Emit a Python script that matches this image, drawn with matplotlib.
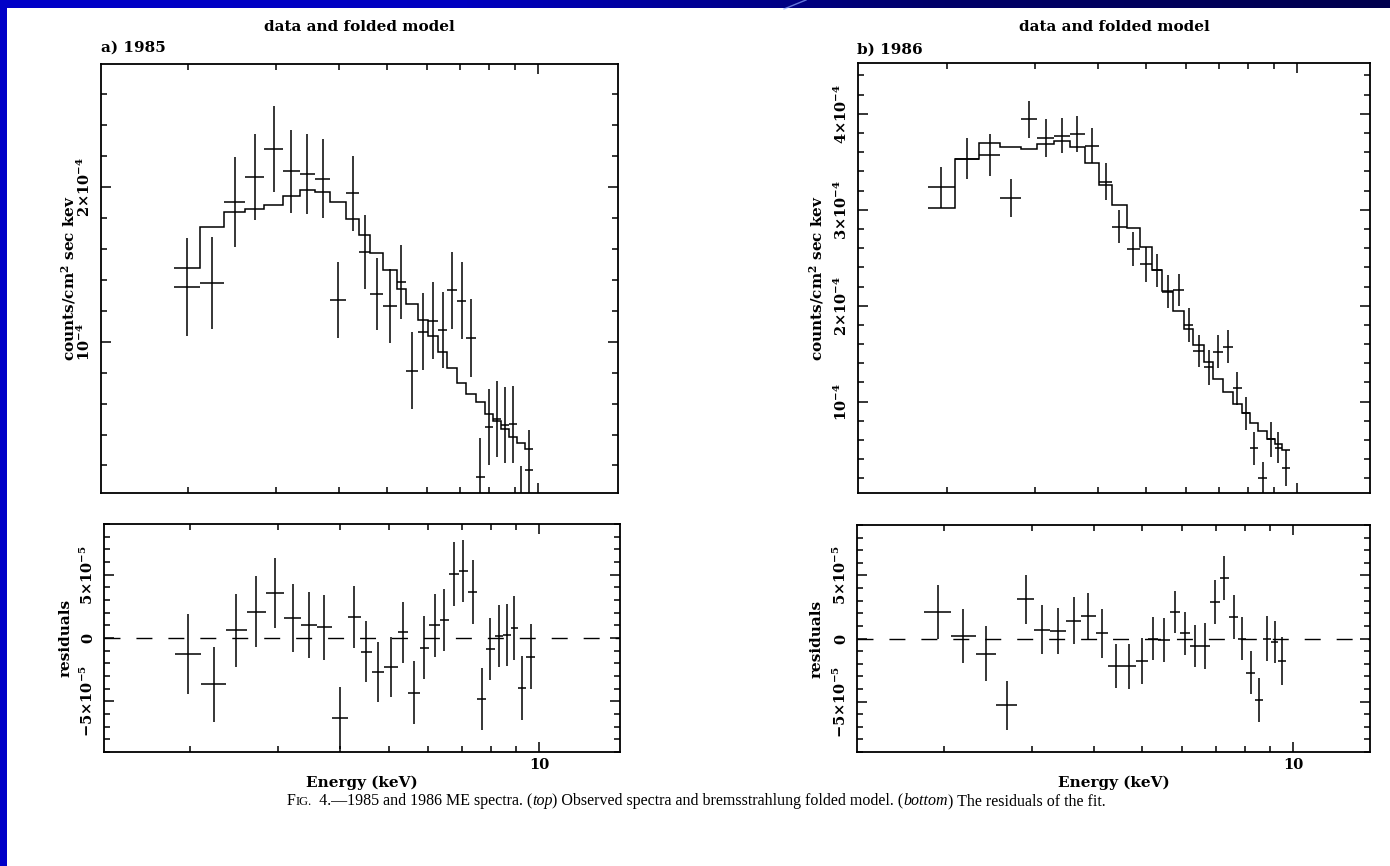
import numpy as np
import matplotlib

matplotlib.use("Agg")
import matplotlib.pyplot as plt
from matplotlib.colors import LinearSegmentedColormap
from matplotlib.patches import Rectangle
from matplotlib.ticker import FixedLocator, FuncFormatter, MultipleLocator, NullFormatter

plt.rcParams["font.family"] = "DejaVu Serif"
plt.rcParams["font.weight"] = "bold"
plt.rcParams["axes.labelweight"] = "bold"
plt.rcParams["mathtext.fontset"] = "custom"
plt.rcParams["mathtext.rm"] = "DejaVu Serif:bold"
plt.rcParams["mathtext.it"] = "DejaVu Serif:italic:bold"
plt.rcParams["mathtext.bf"] = "DejaVu Serif:bold"

UNIT = 1e-4  # flux values below are in units of 1e-4 counts/cm^2/s/keV

# ---- 1985 ME spectrum ----
edges_85 = [1.87, 2.11, 2.36, 2.60, 2.84, 3.09, 3.34, 3.59, 3.85, 4.14, 4.39, 4.63, 4.90, 5.22, 5.46,
            5.76, 6.03, 6.32, 6.60, 6.90, 7.20, 7.52, 7.83, 8.14, 8.46, 8.76, 9.07, 9.42, 9.79]
data_85 = [1.352, 1.378, 1.903, 2.067, 2.244, 2.101, 2.084, 2.052, 1.270, 1.959, 1.582, 1.308, 1.233, 1.388,
           0.813, 1.065, 1.135, 1.076, 1.332, 1.265, 1.024, 0.127, 0.447, 0.502, 0.460, 0.465, -0.051, 0.171]
err_85 = [0.316, 0.296, 0.288, 0.278, 0.277, 0.269, 0.261, 0.255, 0.246, 0.241, 0.240, 0.235, 0.239, 0.240,
          0.248, 0.248, 0.249, 0.248, 0.250, 0.248, 0.250, 0.248, 0.245, 0.245, 0.246, 0.251, 0.250, 0.258]
model_85 = [1.479, 1.742, 1.840, 1.858, 1.886, 1.944, 1.980, 1.969, 1.903, 1.793, 1.689, 1.575, 1.462, 1.343,
            1.245, 1.141, 1.035, 0.934, 0.827, 0.736, 0.662, 0.609, 0.535, 0.486, 0.436, 0.384, 0.343, 0.306]
resid_85 = [-0.127, -0.364, 0.063, 0.209, 0.358, 0.157, 0.100, 0.083, -0.633, 0.166, -0.107, -0.267, -0.229, 0.045,
            -0.432, -0.076, 0.100, 0.142, 0.505, 0.529, 0.362, -0.482, -0.088, 0.016, 0.024, 0.081, -0.394, -0.147]

# ---- 1986 ME spectrum ----
edges_86 = [1.83, 2.07, 2.32, 2.55, 2.81, 3.03, 3.27, 3.52, 3.77, 4.03, 4.27, 4.57, 4.85, 5.13, 5.37,
            5.67, 5.95, 6.21, 6.53, 6.81, 7.13, 7.45, 7.76, 8.07, 8.38, 8.71, 9.05, 9.33, 9.70]
data_86 = [3.234, 3.534, 3.571, 3.126, 3.943, 3.750, 3.773, 3.793, 3.668, 3.294, 2.825, 2.594, 2.434, 2.370,
           2.147, 2.162, 1.800, 1.531, 1.357, 1.521, 1.574, 1.140, 0.879, 0.514, 0.201, 0.609, 0.522, 0.309]
err_86 = [0.217, 0.212, 0.217, 0.196, 0.196, 0.195, 0.183, 0.186, 0.183, 0.191, 0.174, 0.179, 0.183, 0.170,
          0.174, 0.170, 0.174, 0.165, 0.182, 0.174, 0.174, 0.174, 0.174, 0.174, 0.174, 0.182, 0.165, 0.188]
model_86 = [3.022, 3.527, 3.691, 3.659, 3.637, 3.683, 3.718, 3.653, 3.488, 3.259, 3.047, 2.813, 2.617, 2.370,
            2.157, 1.950, 1.762, 1.590, 1.416, 1.235, 1.098, 0.975, 0.879, 0.781, 0.690, 0.609, 0.554, 0.492]
resid_86 = [0.21, 0.02, -0.12, -0.53, 0.31, 0.07, 0.06, 0.14, 0.18, 0.04, -0.22, -0.22, -0.18, 0.00,
            -0.01, 0.21, 0.04, -0.06, -0.06, 0.29, 0.48, 0.17, 0.00, -0.27, -0.49, 0.00, -0.03, -0.18]

W, H = 1390, 866
LW = 1.1


def sci_label(value, pos):
    if abs(value) < 1e-12:
        return "0"
    exp = int(np.floor(np.log10(abs(value)) + 1e-9))
    mant = int(round(value / 10.0 ** exp))
    if abs(mant) == 1:
        return rf"${'-' if mant < 0 else ''}10^{{{exp}}}$"
    return rf"${mant}{{\times}}10^{{{exp}}}$"


def style_axes(ax, xlim, show_xlabel):
    ax.set_xscale("log")
    ax.set_xlim(*xlim)
    ax.xaxis.set_major_locator(FixedLocator([10]))
    ax.xaxis.set_minor_locator(FixedLocator([2, 3, 4, 5, 6, 7, 8, 9]))
    ax.xaxis.set_minor_formatter(NullFormatter())
    if show_xlabel:
        ax.xaxis.set_major_formatter(FuncFormatter(lambda v, p: "10"))
    else:
        ax.xaxis.set_major_formatter(NullFormatter())
    ax.yaxis.set_major_formatter(FuncFormatter(sci_label))
    ax.tick_params(which="both", direction="in", top=True, right=True, width=LW, labelsize=10.5)
    ax.tick_params(which="major", length=7)
    ax.tick_params(which="minor", length=4)
    ax.tick_params(axis="x", pad=4)
    ax.tick_params(axis="y", pad=6, labelrotation=90)
    for spine in ax.spines.values():
        spine.set_linewidth(1.3)


def crosses(ax, edges, values, errors):
    edges = np.asarray(edges)
    lo, hi = edges[:-1], edges[1:]
    mid = np.sqrt(lo * hi)
    ax.errorbar(mid, np.asarray(values) * UNIT, xerr=[mid - lo, hi - mid],
                yerr=np.asarray(errors) * UNIT, fmt="none", ecolor="black",
                elinewidth=LW, capsize=0)


def spectrum_panel(ax, edges, data, err, model, ylim, majors):
    crosses(ax, edges, data, err)
    ax.stairs(np.asarray(model) * UNIT, edges, baseline=None, color="black", lw=LW)
    ax.set_ylim(*ylim)
    ax.yaxis.set_major_locator(FixedLocator(majors))
    ax.yaxis.set_minor_locator(MultipleLocator(0.2 * UNIT))


def residual_panel(ax, edges, resid, err):
    ax.axhline(0, color="black", lw=1.0, ls=(0, (11.5, 11.5)))
    crosses(ax, edges, resid, err)
    ax.set_ylim(-0.9 * UNIT, 0.9 * UNIT)
    ax.yaxis.set_major_locator(FixedLocator([-0.5 * UNIT, 0, 0.5 * UNIT]))
    ax.yaxis.set_minor_locator(MultipleLocator(0.1 * UNIT))


def box(x0, y0, x1, y1):
    return [x0 / W, 1 - y1 / H, (x1 - x0) / W, (y1 - y0) / H]


fig = plt.figure(figsize=(W / 100, H / 100), dpi=100, facecolor="white")

# slide background: blue band along the top and the left edge
bg = fig.add_axes([0, 0, 1, 1], zorder=-5)
band = LinearSegmentedColormap.from_list("band", ["#0000c8", "#0000c0", "#00006a", "#00004e"])
bg.imshow(np.linspace(0, 1, 256)[None, :], extent=(0, W, 8, 0), cmap=band, aspect="auto")
bg.add_patch(Rectangle((0, 0), 7, H, color="#0000c8", lw=0))
bg.plot([806, 784], [0, 9], color="#8fa8ff", lw=1.0, alpha=0.7)
bg.set_xlim(0, W)
bg.set_ylim(H, 0)
bg.axis("off")

ax_a = fig.add_axes(box(101, 64, 618, 493))
ax_ar = fig.add_axes(box(104, 524, 620, 752))
ax_b = fig.add_axes(box(858, 63, 1370, 493))
ax_br = fig.add_axes(box(857, 525, 1370, 752))

spectrum_panel(ax_a, edges_85, data_85, err_85, model_85, (0.022 * UNIT, 2.795 * UNIT), [1 * UNIT, 2 * UNIT])
residual_panel(ax_ar, edges_85, resid_85, err_85)
spectrum_panel(ax_b, edges_86, data_86, err_86, model_86, (0.048 * UNIT, 4.53 * UNIT),
               [1 * UNIT, 2 * UNIT, 3 * UNIT, 4 * UNIT])
residual_panel(ax_br, edges_86, resid_86, err_86)

style_axes(ax_a, (10 ** 0.1266, 10 ** 1.1606), False)
style_axes(ax_ar, (10 ** 0.1294, 10 ** 1.1614), True)
style_axes(ax_b, (10 ** 0.1226, 10 ** 1.1466), False)
style_axes(ax_br, (10 ** 0.128, 10 ** 1.154), True)

ylabel = "counts/cm$^2$ sec kev"
ax_a.set_ylabel(ylabel, fontsize=11)
ax_a.yaxis.set_label_coords(-0.045, 0.5)
ax_b.set_ylabel(ylabel, fontsize=11)
ax_b.yaxis.set_label_coords(-0.0625, 0.5)
ax_ar.set_ylabel("residuals", fontsize=11)
ax_ar.yaxis.set_label_coords(-0.06, 0.5)
ax_br.set_ylabel("residuals", fontsize=11)
ax_br.yaxis.set_label_coords(-0.066, 0.5)

for ax in (ax_a, ax_ar, ax_b, ax_br):
    plt.setp(ax.get_yticklabels(), va="center")

for ax in (ax_ar, ax_br):
    ax.set_xlabel("Energy (keV)", fontsize=11, labelpad=3)

fig.text(359.5 / W, 1 - 27 / H, "data and folded model", ha="center", va="center", fontsize=11)
fig.text(1114 / W, 1 - 27 / H, "data and folded model", ha="center", va="center", fontsize=11)
fig.text(101 / W, 1 - 48 / H, "a) 1985", ha="left", va="center", fontsize=11)
fig.text(857 / W, 1 - 50 / H, "b) 1986", ha="left", va="center", fontsize=11)

# journal caption underneath: runs of text laid end to end on one baseline,
# giving the small-caps "Fig." and the italic words
cap = dict(family="Liberation Serif", weight="normal", size=11.5, color="black")
pieces = [
    ("F", {}),
    ("IG.", {"size": 9}),
    ("\u2009 4.\u20141985 and 1986 ME spectra. (", {}),
    ("top", {"style": "italic"}),
    (") Observed spectra and bremsstrahlung folded model. (", {}),
    ("bottom", {"style": "italic"}),
    (") The residuals of the fit.", {}),
]
cap_x, cap_base = 696, 805
renderer = fig.canvas.get_renderer()
runs = [fig.text(0, 1 - cap_base / H, text, ha="left", va="baseline", **{**cap, **extra})
        for text, extra in pieces]
widths = [run.get_window_extent(renderer).width for run in runs]
x = cap_x - sum(widths) / 2
for run, width in zip(runs, widths):
    run.set_x(x / W)
    x += width

fig.savefig("out.png", dpi=100, facecolor="white")
